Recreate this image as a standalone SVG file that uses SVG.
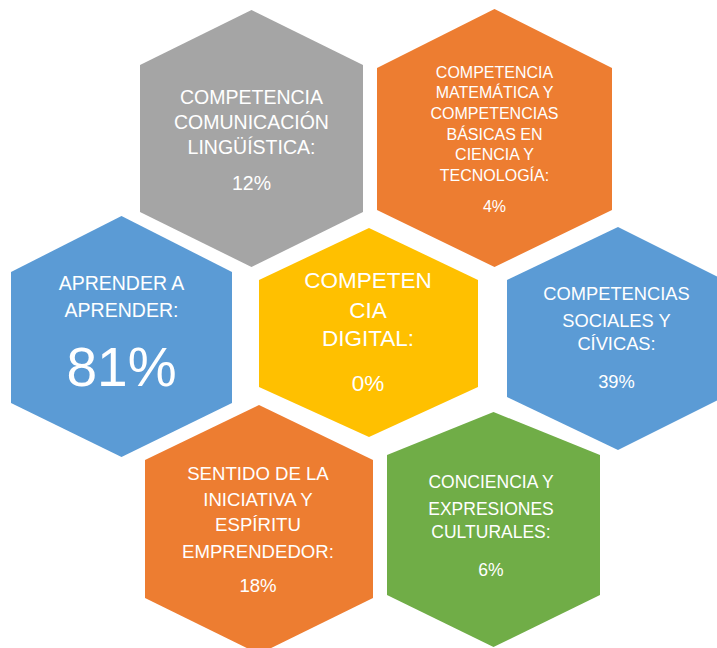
<svg xmlns="http://www.w3.org/2000/svg" width="717" height="648" viewBox="0 0 717 648">
<style>
.t{font-family:"Liberation Sans",Arial,sans-serif;fill:#fff;text-anchor:middle}
.gray{fill:#A5A5A5}.orange{fill:#ED7D31}.blue{fill:#5B9BD5}.yellow{fill:#FFC000}.green{fill:#70AD47}
</style>
<rect width="717" height="648" fill="#fff"/>
<g id="comunicacion">
<polygon class="gray" points="251.5,10 363,65 363,212 251.5,267 140,212 140,65"/>
<text class="t" font-size="19.5"><tspan x="251.5" y="104">COMPETENCIA</tspan><tspan x="251.5" y="129">COMUNICACIÓN</tspan><tspan x="251.5" y="154">LINGÜÍSTICA:</tspan><tspan x="251.5" y="190">12%</tspan></text>
</g>
<g id="matematica">
<polygon class="orange" points="494.5,9 612,68 612,210 494.5,267 377,210 377,68"/>
<text class="t" font-size="16"><tspan x="494.5" y="77.5">COMPETENCIA</tspan><tspan x="494.5" y="98">MATEMÁTICA Y</tspan><tspan x="494.5" y="118.5">COMPETENCIAS</tspan><tspan x="494.5" y="139.5">BÁSICAS EN</tspan><tspan x="494.5" y="160">CIENCIA Y</tspan><tspan x="494.5" y="180.5">TECNOLOGÍA:</tspan><tspan x="494.5" y="212">4%</tspan></text>
</g>
<g id="aprender">
<polygon class="blue" points="121.5,216 232,272 232,403 121.5,457 11,403 11,272"/>
<text class="t" font-size="19.5"><tspan x="121.5" y="290">APRENDER A</tspan><tspan x="121.5" y="317">APRENDER:</tspan></text>
<text class="t" font-size="55" x="121.5" y="386">81%</text>
</g>
<g id="digital">
<polygon class="yellow" points="369,228 478,280 478,387 369,437 259,387 259,280"/>
<text class="t" font-size="22.5"><tspan x="368" y="288">COMPETEN</tspan><tspan x="368" y="318">CIA</tspan><tspan x="368" y="346">DIGITAL:</tspan><tspan x="368" y="391">0%</tspan></text>
</g>
<g id="sociales">
<polygon class="blue" points="618,227 724,280 724,397 618,450 507,397 507,280"/>
<text class="t" font-size="18.3"><tspan x="616.5" y="300">COMPETENCIAS</tspan><tspan x="616.5" y="326.5">SOCIALES Y</tspan><tspan x="616.5" y="350">CÍVICAS:</tspan><tspan x="616.5" y="388">39%</tspan></text>
</g>
<g id="iniciativa">
<polygon class="orange" points="259,405 373,460 373,598 259,654 145,598 145,460"/>
<text class="t" font-size="18.6"><tspan x="258" y="480">SENTIDO DE LA</tspan><tspan x="258" y="506">INICIATIVA Y</tspan><tspan x="258" y="530.5">ESPÍRITU</tspan><tspan x="258" y="558">EMPRENDEDOR:</tspan><tspan x="258" y="591.5">18%</tspan></text>
</g>
<g id="culturales">
<polygon class="green" points="493.5,412 600,455 600,595 493.5,647 387,595 387,455"/>
<text class="t" font-size="17.5"><tspan x="491" y="488">CONCIENCIA Y</tspan><tspan x="491" y="514.5">EXPRESIONES</tspan><tspan x="491" y="538">CULTURALES:</tspan><tspan x="491" y="575.5">6%</tspan></text>
</g>
<g id="connectors"/>
</svg>
